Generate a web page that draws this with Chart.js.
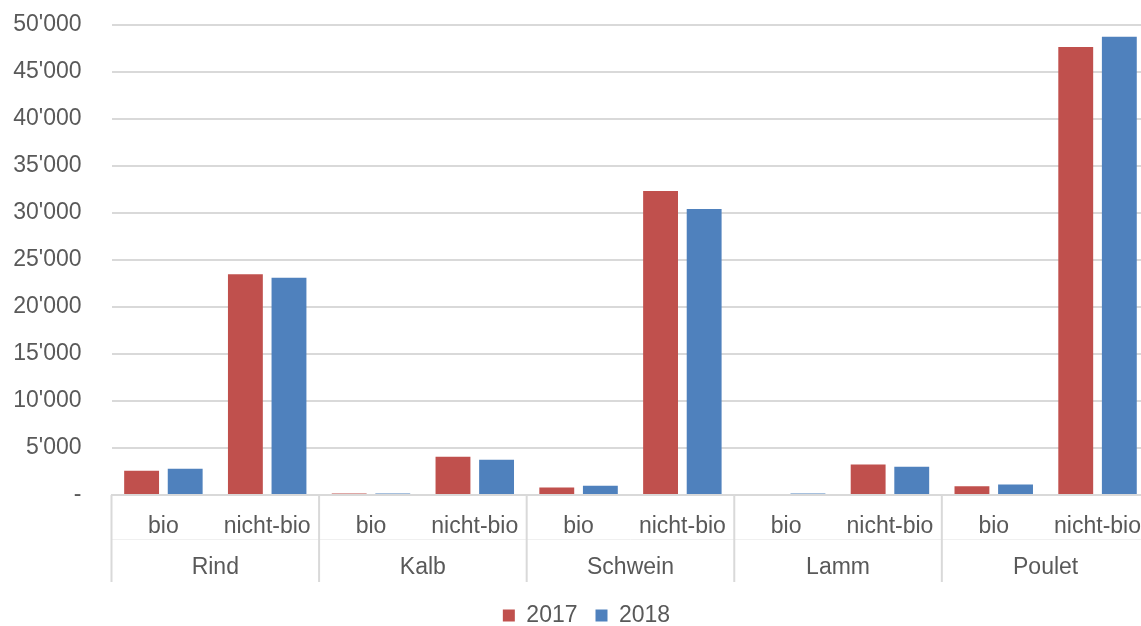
<!DOCTYPE html>
<html>
<head>
<meta charset="utf-8">
<script src="https://cdn.jsdelivr.net/npm/chart.js@4.4.1/dist/chart.umd.min.js"></script>
<style>
  html, body { margin: 0; padding: 0; background: #fff; overflow: hidden; }
</style>
</head>
<body>
<canvas id="meatChart" width="1159" height="637"></canvas>
<script>
// ---------------- DATA ----------------
const groups = ['Rind', 'Kalb', 'Schwein', 'Lamm', 'Poulet'];
const subLabels = ['bio', 'nicht-bio'];
const years = ['2017', '2018'];
const values2017 = [2580, 23490, 150, 4075, 800, 32350, 0, 3250, 940, 47670];
const values2018 = [2800, 23100, 170, 3755, 980, 30430, 150, 3010, 1120, 48740];
const yTicks = [0, 5000, 10000, 15000, 20000, 25000, 30000, 35000, 40000, 45000, 50000];

const TEXT = '#595959';
const GRID = '#d9d9d9';
const FONT = 'Liberation Sans, Arial, sans-serif';
const FS = 23;

const labels = groups.flatMap(() => subLabels);

function fmt(v) {
  if (v === 0) return '-';
  return String(v).replace(/\B(?=(\d{3})+(?!\d))/g, "'");
}

// group names + separators under the bio/nicht-bio row
const groupAxis = {
  id: 'groupAxis',
  beforeDraw(chart) {
    // legend sits a bit right of centre in the original
    chart.legend.left += 7;
    chart.legend.right += 7;
  },
  afterDraw(chart) {
    const { ctx, chartArea } = chart;
    const x = chart.scales.x;
    const catW = x.width / labels.length;
    const top = chartArea.bottom;
    ctx.save();
    // faint divider between the two label rows
    ctx.strokeStyle = '#f0f0f0';
    ctx.lineWidth = 1;
    ctx.beginPath();
    ctx.moveTo(chartArea.left, top + 44.5);
    ctx.lineTo(chartArea.right, top + 44.5);
    ctx.stroke();
    ctx.strokeStyle = GRID;
    ctx.lineWidth = 2;
    groups.forEach((g, i) => {
      const left = x.getPixelForValue(i * subLabels.length) - catW / 2;
      ctx.beginPath();
      ctx.moveTo(left, top);
      ctx.lineTo(left, top + 87);
      ctx.stroke();
    });
    ctx.fillStyle = TEXT;
    ctx.font = FS + 'px ' + FONT;
    ctx.textAlign = 'center';
    ctx.textBaseline = 'middle';
    groups.forEach((g, i) => {
      const left = x.getPixelForValue(i * subLabels.length) - catW / 2;
      ctx.fillText(g, left + catW, top + 73);
    });
    ctx.restore();
  }
};

const ctx = document.getElementById('meatChart').getContext('2d');
new Chart(ctx, {
  type: 'bar',
  data: {
    labels: labels,
    datasets: [
      { label: years[0], data: values2017, backgroundColor: '#C0504D', borderWidth: 0 },
      { label: years[1], data: values2018, backgroundColor: '#4F81BD', borderWidth: 0 }
    ]
  },
  options: {
    responsive: false,
    animation: false,
    categoryPercentage: 0.84,
    barPercentage: 0.8,
    layout: { padding: { top: 25, right: 0, left: 0, bottom: 0 } },
    plugins: {
      tooltip: { enabled: false },
      legend: {
        position: 'bottom',
        labels: {
          color: TEXT,
          font: { family: FONT, size: FS },
          boxWidth: 12,
          boxHeight: 12,
          padding: 18
        }
      }
    },
    scales: {
      x: {
        grid: { display: false, drawTicks: false },
        border: { display: true, color: GRID, width: 2 },
        ticks: {
          color: TEXT,
          font: { family: FONT, size: FS },
          padding: 18,
          maxRotation: 0,
          autoSkip: false,
          callback: (v, i) => labels[i]
        },
        afterFit: s => { s.height = 91; }
      },
      y: {
        min: 0,
        max: 50000,
        afterBuildTicks: s => { s.ticks = yTicks.map(v => ({ value: v })); },
        grid: { color: GRID, lineWidth: 2, drawTicks: true, tickLength: 30, tickColor: 'rgba(0,0,0,0)' },
        border: { display: false },
        ticks: {
          color: TEXT,
          font: { family: FONT, size: FS },
          padding: 0,
          callback: v => fmt(v)
        },
        afterFit: s => { s.width = 111.5; }
      }
    }
  },
  plugins: [groupAxis]
});
</script>
</body>
</html>
